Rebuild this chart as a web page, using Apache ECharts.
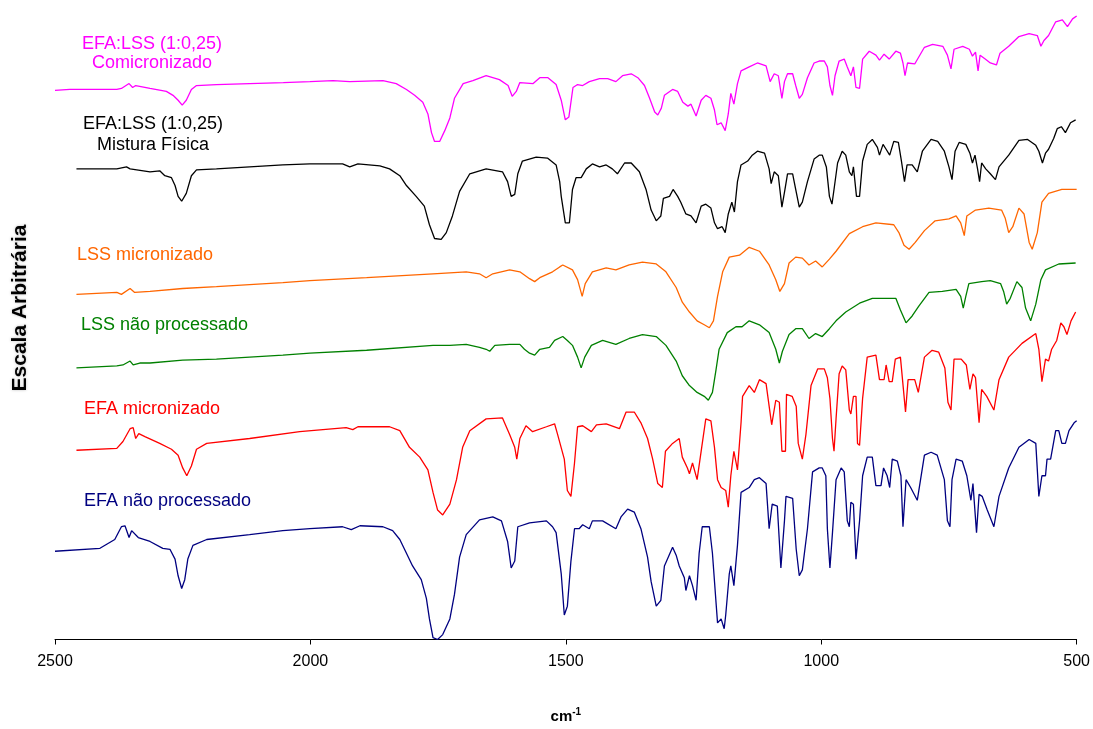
<!DOCTYPE html>
<html>
<head>
<meta charset="utf-8">
<script src="https://cdn.jsdelivr.net/npm/echarts@6/dist/echarts.min.js"></script>
<style>html,body{margin:0;padding:0;background:#fff}#c{width:1093px;height:729px}</style>
</head>
<body>
<div id="c"></div>
<script>
// x: wavenumber (cm-1), y: arbitrary scale
const xTicks = [2500, 2000, 1500, 1000, 500];

const efaLssComicronizado = [[2500,560],[2471,561],[2379,561],[2370,562],[2355,567],[2348,563],[2342,565],[2314,562],[2282,559],[2269,555],[2259,550],[2251,545],[2243,550],[2233,561],[2223,565],[2184,566],[2119,567],[2053,568],[2001,569],[1956,570],[1923,569],[1858,570],[1832,567],[1812,561],[1796,555],[1780,548],[1770,536],[1763,517],[1757,508],[1747,508],[1737,519],[1727,532],[1718,552],[1701,567],[1682,570],[1656,575],[1630,571],[1613,565],[1605,554],[1597,559],[1590,568],[1564,567],[1551,573],[1535,573],[1519,566],[1509,550],[1501,530],[1494,533],[1486,563],[1477,566],[1467,565],[1454,569],[1434,572],[1418,572],[1402,569],[1389,575],[1372,577],[1359,573],[1346,565],[1336,552],[1326,538],[1320,535],[1313,542],[1307,555],[1291,561],[1281,559],[1271,548],[1261,544],[1255,546],[1245,534],[1235,550],[1226,555],[1216,552],[1209,540],[1204,525],[1196,527],[1188,519],[1182,536],[1177,557],[1171,546],[1164,567],[1157,580],[1141,584],[1125,588],[1108,585],[1100,569],[1092,577],[1084,575],[1077,552],[1072,569],[1066,577],[1056,577],[1050,565],[1043,552],[1037,556],[1027,573],[1014,588],[1004,590],[994,590],[988,584],[983,565],[978,555],[973,575],[965,590],[955,592],[949,584],[942,575],[937,584],[932,563],[925,562],[919,592],[906,600],[893,596],[886,591],[877,597],[867,592],[854,600],[845,598],[840,588],[836,575],[831,588],[817,587],[798,604],[782,607],[762,605],[753,596],[746,582],[740,602],[723,605],[710,602],[704,595],[698,599],[693,580],[689,596],[679,592],[669,588],[657,586],[650,598],[633,605],[613,615],[593,618],[577,616],[570,605],[564,611],[555,616],[541,630],[528,632],[518,625],[508,633],[500,636]];

const efaLssMistura = [[2458,480],[2379,480],[2360,482],[2353,480],[2314,477],[2295,478],[2285,473],[2272,471],[2265,463],[2259,452],[2252,447],[2243,455],[2233,473],[2223,479],[2184,480],[2119,482],[2054,484],[2001,485],[1937,485],[1923,482],[1907,485],[1864,483],[1845,480],[1825,473],[1812,463],[1793,452],[1777,442],[1767,423],[1757,409],[1744,408],[1734,415],[1722,432],[1708,457],[1688,475],[1656,480],[1624,477],[1614,467],[1607,452],[1600,454],[1594,475],[1585,488],[1558,492],[1536,491],[1519,484],[1512,467],[1509,452],[1501,425],[1493,425],[1487,459],[1480,471],[1470,471],[1460,480],[1448,485],[1434,482],[1421,484],[1409,480],[1399,475],[1385,486],[1372,486],[1356,477],[1343,459],[1333,438],[1323,427],[1314,432],[1309,450],[1297,452],[1290,459],[1281,452],[1275,446],[1265,434],[1255,432],[1245,425],[1235,442],[1226,444],[1216,440],[1209,425],[1203,419],[1194,421],[1188,415],[1182,434],[1175,446],[1170,436],[1164,467],[1157,484],[1144,488],[1135,494],[1125,498],[1111,496],[1102,480],[1098,465],[1092,477],[1084,473],[1077,441],[1071,459],[1066,475],[1056,475],[1050,459],[1043,441],[1037,446],[1027,467],[1014,490],[1004,494],[998,494],[990,482],[984,452],[979,444],[975,459],[968,486],[959,498],[952,494],[945,477],[940,473],[937,482],[931,452],[925,452],[919,488],[910,505],[900,510],[890,502],[886,494],[879,505],[873,500],[866,494],[858,508],[849,507],[843,488],[837,467],[832,484],[822,484],[812,477],[802,498],[785,510],[772,508],[759,498],[750,482],[744,469],[738,498],[730,507],[717,505],[709,496],[704,486],[699,494],[694,480],[690,467],[686,486],[678,480],[669,475],[659,469],[652,482],[633,494],[613,509],[596,510],[580,504],[574,498],[567,486],[561,496],[555,500],[545,511],[538,521],[530,523],[522,517],[512,527],[502,530]];

const lssMicronizado = [[2458,352],[2379,354],[2370,352],[2353,358],[2344,354],[2314,355],[2250,358],[2184,360],[2119,362],[2054,364],[2001,366],[1890,369],[1760,373],[1695,375],[1669,373],[1656,369],[1643,373],[1610,377],[1590,375],[1571,368],[1561,365],[1551,369],[1526,375],[1512,380],[1506,382],[1487,377],[1477,367],[1468,350],[1462,363],[1448,375],[1421,379],[1402,377],[1376,382],[1350,385],[1323,383],[1304,375],[1284,359],[1272,344],[1258,334],[1243,325],[1229,321],[1219,318],[1211,325],[1203,350],[1193,375],[1180,390],[1160,392],[1141,400],[1121,396],[1102,382],[1089,367],[1081,355],[1072,363],[1063,384],[1050,390],[1037,389],[1024,382],[1011,386],[998,380],[984,388],[971,396],[945,414],[919,421],[893,425],[858,423],[848,415],[838,402],[828,398],[816,405],[798,417],[777,427],[750,429],[736,432],[727,425],[720,412],[715,432],[698,438],[672,440],[647,438],[640,430],[633,415],[625,421],[613,440],[603,434],[593,405],[587,398],[577,415],[568,446],[555,455],[529,459],[500,459]];

const lssNaoProcessado = [[2458,277],[2379,279],[2367,280],[2353,284],[2347,280],[2334,282],[2314,282],[2250,285],[2184,286],[2119,288],[2054,290],[2001,292],[1890,295],[1760,300],[1727,300],[1695,301],[1669,298],[1656,296],[1649,294],[1639,300],[1610,301],[1590,301],[1581,296],[1571,292],[1561,290],[1551,296],[1532,298],[1522,305],[1506,309],[1497,305],[1487,300],[1477,288],[1470,277],[1463,288],[1450,300],[1428,305],[1402,301],[1376,307],[1350,311],[1323,309],[1304,300],[1284,284],[1272,269],[1258,259],[1243,252],[1229,248],[1221,244],[1213,252],[1206,275],[1200,296],[1184,313],[1167,319],[1155,319],[1141,325],[1121,321],[1102,313],[1089,296],[1082,282],[1076,294],[1063,311],[1050,317],[1037,317],[1024,307],[1011,312],[998,309],[984,317],[971,325],[952,334],[925,343],[900,348],[873,348],[854,348],[845,336],[834,323],[822,330],[809,340],[789,354],[763,355],[736,357],[727,350],[722,338],[717,350],[711,363],[686,365],[669,366],[649,363],[643,355],[637,342],[630,348],[617,365],[607,359],[600,338],[590,325],[580,342],[570,367],[561,377],[535,383],[502,384]];

const efaMicronizado = [[2458,193],[2379,195],[2367,202],[2353,215],[2347,216],[2342,205],[2336,210],[2324,207],[2295,200],[2272,194],[2259,188],[2250,175],[2242,167],[2233,177],[2223,194],[2203,200],[2119,205],[2021,212],[1930,216],[1917,214],[1907,217],[1845,217],[1825,213],[1806,196],[1786,186],[1770,173],[1760,150],[1751,132],[1741,127],[1727,138],[1714,163],[1702,196],[1688,213],[1656,225],[1624,226],[1610,209],[1600,196],[1596,184],[1590,205],[1578,218],[1565,212],[1538,217],[1522,220],[1516,209],[1503,184],[1497,152],[1490,146],[1483,180],[1477,217],[1467,218],[1450,212],[1440,219],[1421,220],[1395,215],[1382,232],[1366,232],[1353,221],[1340,205],[1330,184],[1320,159],[1311,155],[1305,192],[1291,200],[1278,205],[1272,186],[1262,175],[1258,169],[1252,180],[1243,163],[1234,196],[1226,225],[1216,223],[1209,196],[1203,163],[1196,155],[1187,152],[1182,135],[1177,167],[1171,192],[1164,173],[1157,221],[1154,248],[1141,259],[1131,252],[1121,265],[1108,261],[1102,238],[1097,219],[1089,244],[1082,242],[1077,192],[1070,192],[1068,250],[1057,248],[1049,238],[1045,200],[1037,184],[1030,209],[1020,259],[1007,276],[994,276],[988,267],[983,246],[978,205],[975,192],[971,225],[965,271],[959,279],[952,275],[945,234],[942,230],[937,248],[932,248],[929,200],[925,198],[919,246],[910,288],[893,290],[886,265],[877,265],[873,280],[867,263],[861,263],[855,286],[845,288],[835,232],[830,265],[817,265],[810,252],[798,288],[783,295],[770,293],[758,277],[752,242],[746,234],[740,286],[726,286],[716,280],[709,255],[703,271],[698,267],[691,221],[686,255],[676,248],[662,234],[652,265],[633,288],[607,302],[580,312],[574,296],[568,263],[561,286],[555,284],[549,296],[539,305],[531,323],[525,319],[519,311],[511,325],[502,334]];

const efaNaoProcessado = [[2500,90],[2412,93],[2383,102],[2370,115],[2363,116],[2355,104],[2350,111],[2337,104],[2314,100],[2289,93],[2275,92],[2265,82],[2259,65],[2252,52],[2246,61],[2240,82],[2230,96],[2203,102],[2119,107],[2054,111],[2001,113],[1937,115],[1920,112],[1903,116],[1858,115],[1839,111],[1825,102],[1812,88],[1800,75],[1783,61],[1773,42],[1767,21],[1760,2],[1751,0],[1741,5],[1727,21],[1718,46],[1708,84],[1695,107],[1669,122],[1643,125],[1626,121],[1614,100],[1607,73],[1600,80],[1594,115],[1571,119],[1538,121],[1526,115],[1519,109],[1509,67],[1503,25],[1497,34],[1490,80],[1483,113],[1474,113],[1467,117],[1454,113],[1448,121],[1428,121],[1402,113],[1392,125],[1379,133],[1366,130],[1353,113],[1340,84],[1333,59],[1323,34],[1314,40],[1307,75],[1291,94],[1284,86],[1278,75],[1268,63],[1265,50],[1258,65],[1252,55],[1245,40],[1239,88],[1233,115],[1219,115],[1213,88],[1206,38],[1203,17],[1196,21],[1190,11],[1187,25],[1180,67],[1177,75],[1171,55],[1164,96],[1157,150],[1141,155],[1131,163],[1121,165],[1108,159],[1102,113],[1096,138],[1086,136],[1079,73],[1072,121],[1069,146],[1056,144],[1049,92],[1043,65],[1037,71],[1027,113],[1017,171],[1004,175],[998,175],[991,167],[988,113],[983,73],[978,109],[971,163],[961,175],[955,171],[949,121],[945,115],[942,140],[937,138],[932,82],[925,121],[919,167],[910,186],[900,186],[893,157],[883,157],[878,175],[871,167],[866,155],[861,184],[851,182],[844,167],[840,115],[834,163],[825,155],[812,142],[798,188],[785,191],[773,188],[759,163],[753,121],[748,115],[744,163],[736,184],[724,182],[715,167],[707,142],[703,159],[696,109],[691,148],[685,146],[675,132],[662,115],[652,146],[633,175],[613,196],[593,204],[580,200],[574,146],[568,167],[561,167],[558,184],[551,184],[541,213],[535,213],[529,200],[522,200],[515,213],[505,221],[500,223]];

const seriesNames = ['EFA:LSS (1:0,25) Comicronizado','EFA:LSS (1:0,25) Mistura Física','LSS micronizado','LSS não processado','EFA micronizado','EFA não processado'];
const seriesColors = ['#FF00FF','#000000','#FF6600','#008000','#FF0000','#000080'];
const seriesData = [efaLssComicronizado, efaLssMistura, lssMicronizado, lssNaoProcessado, efaMicronizado, efaNaoProcessado];

const FONT = 'Liberation Sans, Arial, sans-serif';
const chart = echarts.init(document.getElementById('c'), null, {renderer: 'canvas'});

function label(text, x, y, color, align) {
  return {type: 'text', x: x, y: y, silent: true,
    style: {text: text, fill: color, fontSize: 18, fontFamily: FONT, textAlign: align, textVerticalAlign: 'middle'}};
}

chart.setOption({
  animation: false,
  backgroundColor: '#ffffff',
  grid: {left: 55, right: 15, top: 12, bottom: 77, containLabel: false},
  xAxis: {
    type: 'value', min: 500, max: 2500, interval: 500, inverse: true,
    axisLine: {show: true, lineStyle: {color: '#000', width: 1}},
    axisTick: {show: true, length: 5, lineStyle: {color: '#000'}},
    axisLabel: {color: '#000', fontSize: 16, fontFamily: FONT, margin: 14,
      formatter: v => (xTicks.indexOf(v) >= 0 ? String(v) : '')},
    splitLine: {show: false},
    name: '{a|cm}{b|-1}', nameLocation: 'middle', nameGap: 67,
    nameTextStyle: {rich: {
      a: {fontSize: 15, fontWeight: 'bold', fontFamily: FONT, color: '#000', lineHeight: 20},
      b: {fontSize: 10, fontWeight: 'bold', fontFamily: FONT, color: '#000', padding: [0, 0, 9, 0]}
    }}
  },
  yAxis: {type: 'value', min: 0, max: 640, show: false},
  series: seriesData.map((d, i) => ({
    name: seriesNames[i], type: 'line', data: d, showSymbol: false, symbol: 'none',
    smooth: false, lineStyle: {color: seriesColors[i], width: 1.3}, clip: false
  })),
  graphic: [
    label('EFA:LSS (1:0,25)', 152, 44, '#FF00FF', 'center'),
    label('Comicronizado', 152, 63, '#FF00FF', 'center'),
    label('EFA:LSS (1:0,25)', 153, 124, '#000000', 'center'),
    label('Mistura Física', 153, 145, '#000000', 'center'),
    label('LSS micronizado', 77, 255, '#FF6600', 'left'),
    label('LSS não processado', 81, 325, '#008000', 'left'),
    label('EFA micronizado', 84, 409, '#FF0000', 'left'),
    label('EFA não processado', 84, 501, '#000080', 'left'),
    {type: 'text', x: 20, y: 308, rotation: Math.PI / 2, silent: true,
      style: {text: 'Escala Arbitrária', fill: '#000', fontSize: 21, fontWeight: 'bold', fontFamily: FONT,
        textAlign: 'center', textVerticalAlign: 'middle', textShadowColor: 'rgba(0,0,0,0.25)', textShadowBlur: 3}}
  ]
});
</script>
</body>
</html>
